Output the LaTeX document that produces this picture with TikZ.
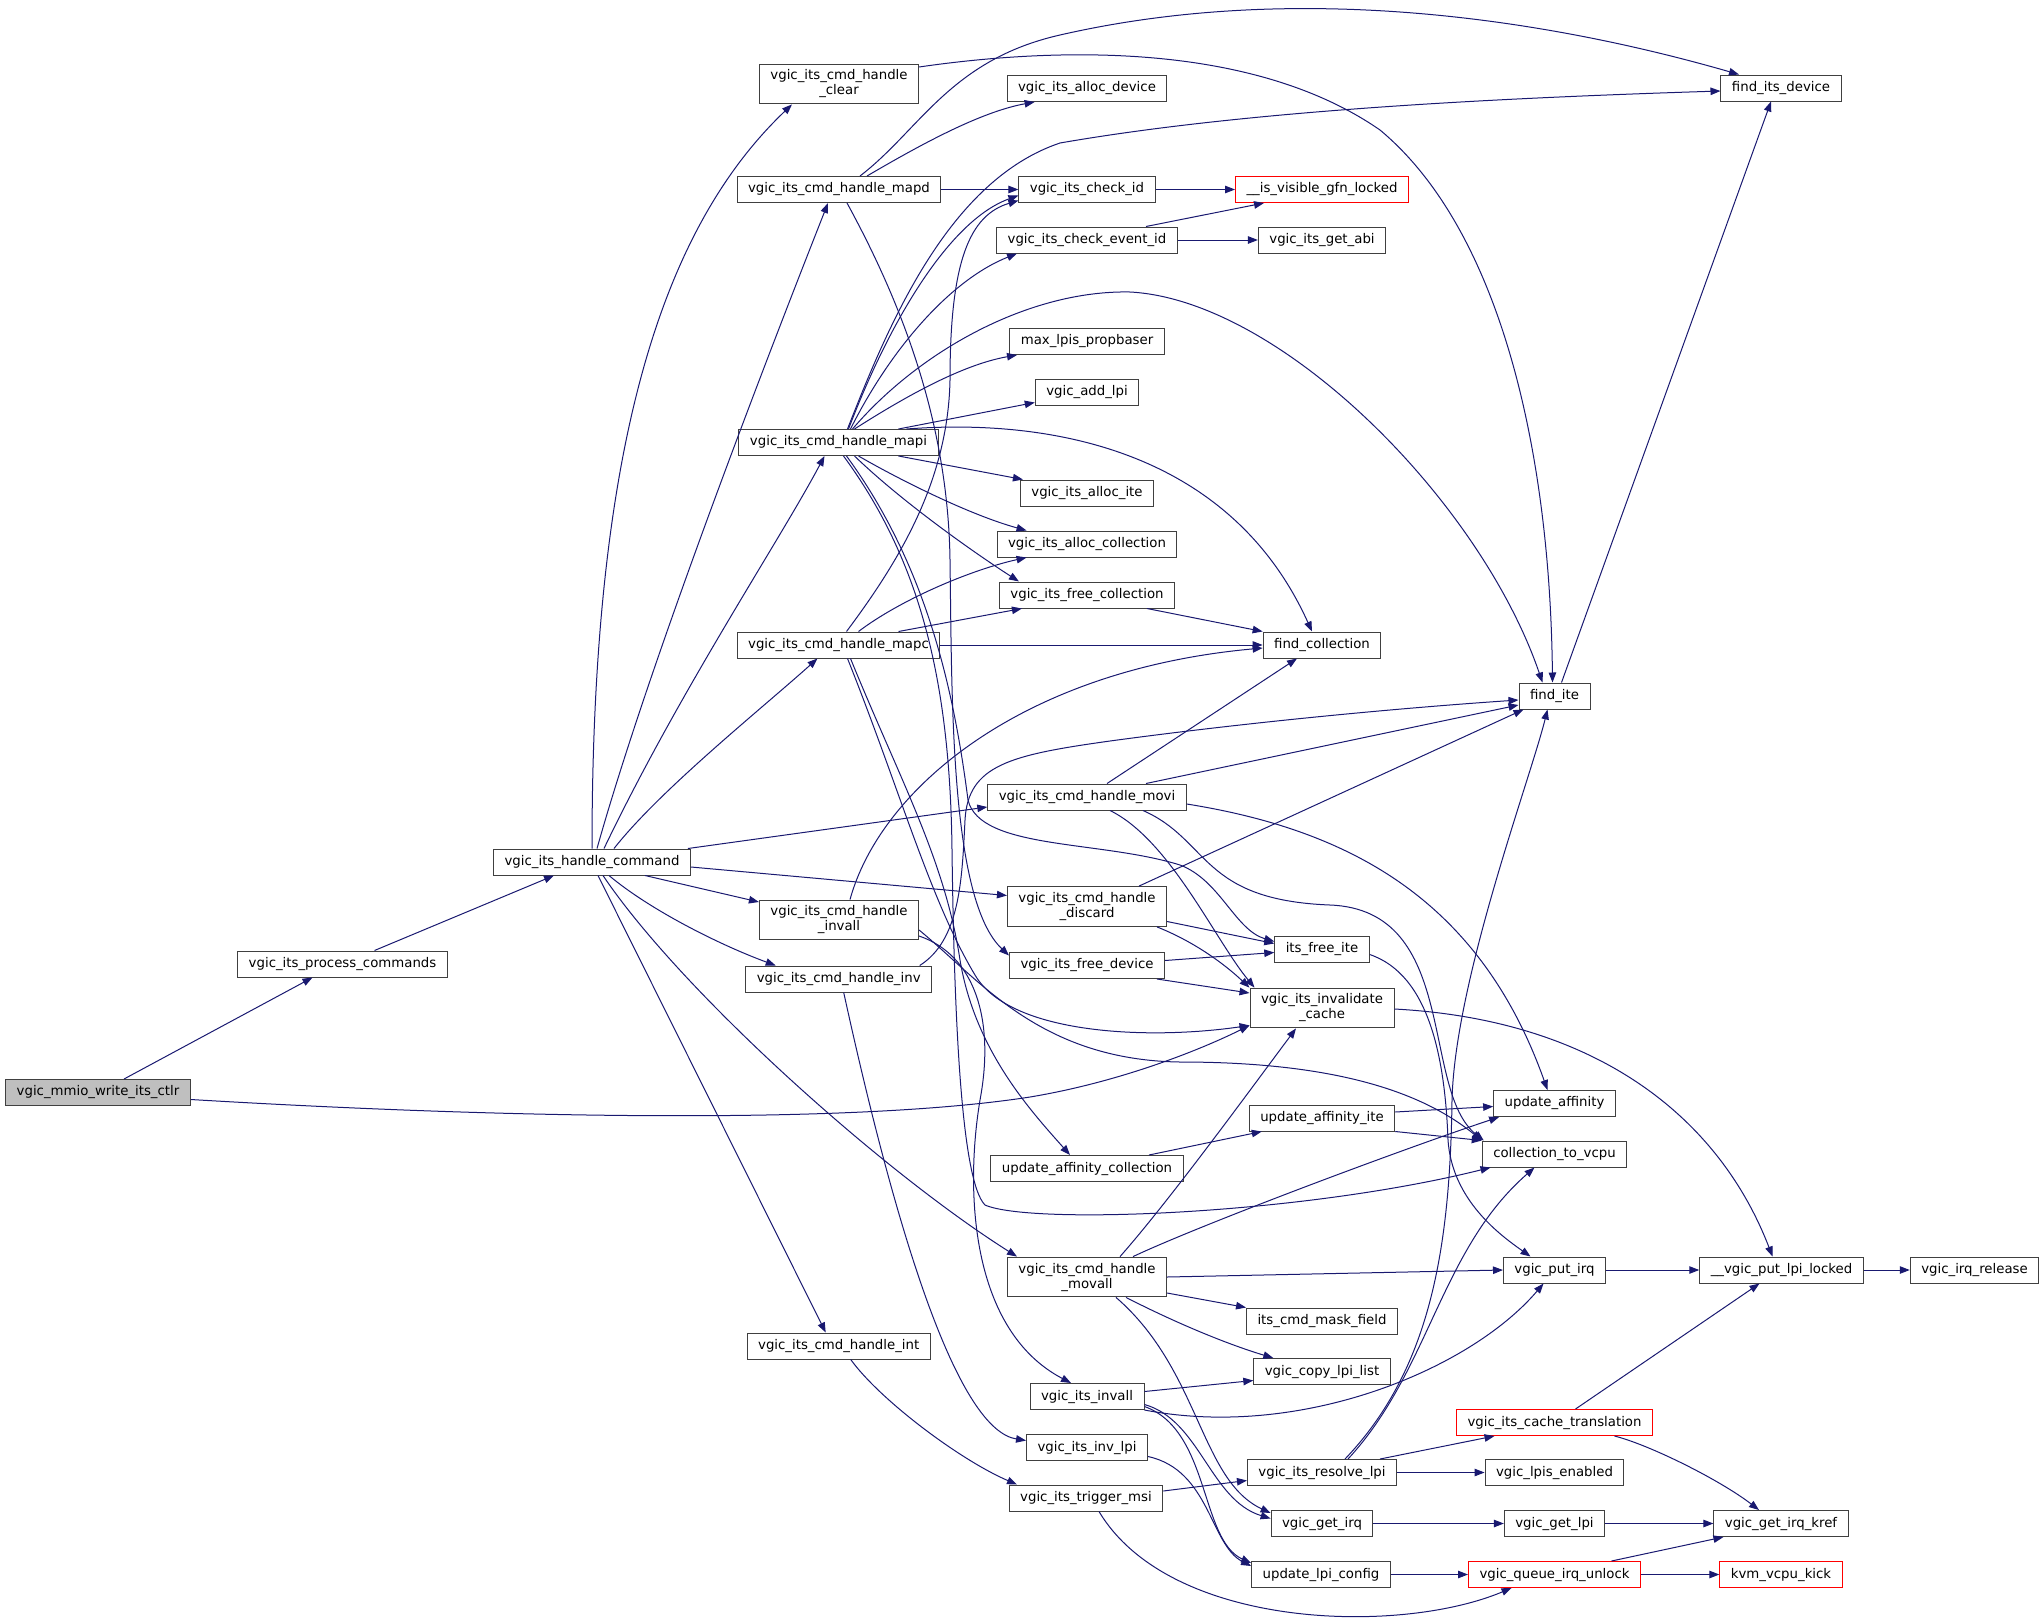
\documentclass[tikz,border=0pt]{standalone}
\usepackage{fontspec}
\setmainfont{DejaVu Sans}
\usetikzlibrary{arrows.meta}
\definecolor{callblue}{HTML}{191970}
\definecolor{rootgray}{HTML}{BFBFBF}
\begin{document}
\begin{tikzpicture}[x=1pt,y=-1pt,
		func/.style={draw=black!75,line width=1pt,fill=white,font=\fontsize{13.3}{15}\selectfont,inner xsep=11pt,inner ysep=5.8pt,minimum height=26pt,align=center},
		funcred/.style={func,draw=red},
		funcroot/.style={func,fill=rootgray},
		call/.style={draw=callblue,line width=1pt,-{Triangle[length=10pt,width=7.5pt]}}]
		
		\useasboundingbox (0,0) rectangle (2044,1619);
		
		% Funktionen
		\node[funcroot] (root) at (98,1092.5) {vgic\_mmio\_write\_its\_ctlr};
		\node[func] (proc) at (342.5,964) {vgic\_its\_process\_commands};
		\node[func] (cmd) at (592,862) {vgic\_its\_handle\_command};
		
		\node[func] (clear) at (839,84) {vgic\_its\_cmd\_handle\\\_clear};
		\node[func] (mapd) at (839,189.5) {vgic\_its\_cmd\_handle\_mapd};
		\node[func] (mapi) at (838.5,442.5) {vgic\_its\_cmd\_handle\_mapi};
		\node[func] (mapc) at (838.5,645) {vgic\_its\_cmd\_handle\_mapc};
		\node[func] (invallh) at (839,920) {vgic\_its\_cmd\_handle\\\_invall};
		\node[func] (inv) at (838.7,979) {vgic\_its\_cmd\_handle\_inv};
		\node[func] (intc) at (838.7,1346) {vgic\_its\_cmd\_handle\_int};
		
		\node[func] (allocdev) at (1087,88.5) {vgic\_its\_alloc\_device};
		\node[func] (checkid) at (1087,189.5) {vgic\_its\_check\_id};
		\node[func] (checkev) at (1087,240) {vgic\_its\_check\_event\_id};
		\node[func] (maxlpi) at (1087,341.5) {max\_lpis\_propbaser};
		\node[func] (addlpi) at (1087,392.5) {vgic\_add\_lpi};
		\node[func] (allocite) at (1087,493) {vgic\_its\_alloc\_ite};
		\node[func] (alloccol) at (1087,544) {vgic\_its\_alloc\_collection};
		\node[func] (freecol) at (1087,595) {vgic\_its\_free\_collection};
		\node[func] (movi) at (1087,797) {vgic\_its\_cmd\_handle\_movi};
		\node[func] (discard) at (1087,906.5) {vgic\_its\_cmd\_handle\\\_discard};
		\node[func] (freedev) at (1087,965.5) {vgic\_its\_free\_device};
		\node[func] (uac) at (1087,1168.5) {update\_affinity\_collection};
		\node[func] (movall) at (1087,1277) {vgic\_its\_cmd\_handle\\\_movall};
		\node[func] (invall) at (1087,1396.5) {vgic\_its\_invall};
		\node[func] (invlpi) at (1087,1447.5) {vgic\_its\_inv\_lpi};
		\node[func] (trig) at (1086,1498) {vgic\_its\_trigger\_msi};
		
		\node[funcred] (visible) at (1322,189.5) {\_\_is\_visible\_gfn\_locked};
		\node[func] (getabi) at (1322,240) {vgic\_its\_get\_abi};
		\node[func] (findcol) at (1322,645) {find\_collection};
		\node[func] (freeite) at (1322,949.5) {its\_free\_ite};
		\node[func] (invcache) at (1322,1008) {vgic\_its\_invalidate\\\_cache};
		\node[func] (uai) at (1322,1118) {update\_affinity\_ite};
		\node[func] (maskf) at (1322,1321) {its\_cmd\_mask\_field};
		\node[func] (copy) at (1322,1371.5) {vgic\_copy\_lpi\_list};
		\node[func] (resolve) at (1322,1472.5) {vgic\_its\_resolve\_lpi};
		\node[func] (getirq) at (1322,1523.5) {vgic\_get\_irq};
		\node[func] (ulc) at (1321,1574.5) {update\_lpi\_config};
		
		\node[func] (findite) at (1554.5,696) {find\_ite};
		\node[func] (ua) at (1554.5,1103.5) {update\_affinity};
		\node[func] (c2v) at (1554.5,1154) {collection\_to\_vcpu};
		\node[func] (putirq) at (1554.5,1270) {vgic\_put\_irq};
		\node[funcred] (cache) at (1554.5,1422.5) {vgic\_its\_cache\_translation};
		\node[func] (lpisen) at (1554.5,1472.5) {vgic\_lpis\_enabled};
		\node[func] (getlpi) at (1554.5,1523.5) {vgic\_get\_lpi};
		\node[funcred] (queue) at (1554.5,1574.5) {vgic\_queue\_irq\_unlock};
		
		\node[func] (finddev) at (1781,88) {find\_its\_device};
		\node[func] (putlpi) at (1781.5,1270) {\_\_vgic\_put\_lpi\_locked};
		\node[func] (kref) at (1781,1523.5) {vgic\_get\_irq\_kref};
		\node[funcred] (kick) at (1781,1574.5) {kvm\_vcpu\_kick};
		\node[func] (release) at (1974.5,1270) {vgic\_irq\_release};
		
		% Wurzel
		\draw[call] ([xshift=26pt]root.north) -- ([xshift=-30pt]proc.south);
		\draw[call] ([yshift=-7pt]root.east) .. controls (500,1118) and (850,1125) .. (1030,1097) .. controls (1120,1082) and (1200,1050) .. ([yshift=3pt]invcache.south west);
		\draw[call] ([xshift=32pt]proc.north) -- ([xshift=-38pt]cmd.south);
		
		% vgic_its_handle_command
		\draw[call] (cmd.north) .. controls (592,450) and (660,230) .. ([xshift=-47pt]clear.south);
		\draw[call] ([xshift=5pt]cmd.north) .. controls (650,660) and (770,350) .. ([xshift=-11pt]mapd.south);
		\draw[call] ([xshift=12pt]cmd.north) .. controls (680,690) and (780,540) .. ([xshift=-14pt]mapi.south);
		\draw[call] ([xshift=22pt]cmd.north) .. controls (660,790) and (760,710) .. ([xshift=-21pt]mapc.south);
		\draw[call] ([xshift=-3pt]cmd.north east) -- ([yshift=-10pt]movi.west);
		\draw[call] ([yshift=-5pt]cmd.east) -- ([yshift=11pt]discard.west);
		\draw[call] ([xshift=53pt]cmd.south) -- ([yshift=18pt]invallh.west);
		\draw[call] ([xshift=17pt]cmd.south) .. controls (650,910) and (720,945) .. ([xshift=-63pt]inv.north);
		\draw[call] ([xshift=11pt]cmd.south) .. controls (680,990) and (880,1170) .. ([xshift=-70pt]movall.north);
		\draw[call] ([xshift=6pt]cmd.south) -- ([xshift=-13pt]intc.north);
		
		% clear und mapd
		\draw[call] ([yshift=17pt]clear.east) .. controls (1050,48) and (1250,40) .. (1380,130) .. controls (1500,230) and (1550,450) .. ([xshift=-2pt]findite.north);
		\draw[call] ([xshift=21pt]mapd.north) .. controls (920,130) and (950,60) .. (1060,35) .. controls (1300,-20) and (1550,20) .. ([xshift=-42pt]finddev.north);
		\draw[call] ([xshift=28pt]mapd.north) .. controls (920,145) and (980,112) .. ([xshift=28pt]allocdev.south west);
		\draw[call] (mapd.east) -- (checkid.west);
		\draw[call] ([xshift=8pt]mapd.south) .. controls (900,300) and (948,420) .. (950,560) .. controls (952,700) and (950,900) .. ([yshift=10pt]freedev.west);
		
		% mapi
		\draw[call] ([xshift=9pt]mapi.north) .. controls (890,320) and (950,180) .. (1060,143) .. controls (1250,110) and (1500,98) .. ([yshift=-3pt]finddev.west);
		\draw[call] ([xshift=10pt]mapi.north) .. controls (890,320) and (950,220) .. ([yshift=-6pt]checkid.west);
		\draw[call] ([xshift=12pt]mapi.north) .. controls (890,350) and (950,280) .. ([xshift=-70pt]checkev.south);
		\draw[call] ([xshift=14pt]mapi.north) .. controls (920,350) and (1030,290) .. (1130,292) .. controls (1280,300) and (1480,500) .. ([xshift=-12pt]findite.north);
		\draw[call] ([xshift=16pt]mapi.north) .. controls (900,400) and (960,365) .. ([xshift=-70pt]maxlpi.south);
		\draw[call] ([xshift=60pt]mapi.north) -- ([yshift=-10pt]addlpi.west);
		\draw[call] ([xshift=68pt]mapi.north) .. controls (1050,418) and (1230,450) .. ([xshift=-10pt]findcol.north);
		\draw[call] ([xshift=60pt]mapi.south) -- ([xshift=3pt]allocite.north west);
		\draw[call] ([xshift=20pt]mapi.south) .. controls (900,480) and (970,515) .. ([xshift=30pt]alloccol.north west);
		\draw[call] ([xshift=16pt]mapi.south) .. controls (900,500) and (970,550) .. ([xshift=20pt]freecol.north west);
		\draw[call] ([xshift=8pt]mapi.south) .. controls (930,570) and (955,700) .. (968,800) .. controls (980,850) and (1100,840) .. (1180,865) .. controls (1220,880) and (1235,930) .. ([yshift=8pt]freeite.west);
		\draw[call] ([xshift=5pt]mapi.south) .. controls (920,560) and (950,680) .. (952,850) .. controls (954,1000) and (960,1180) .. (985,1205) .. controls (1030,1225) and (1300,1215) .. ([xshift=-64pt]c2v.south);
		
		% mapc
		\draw[call] ([xshift=8pt]mapc.north) .. controls (900,560) and (948,480) .. (950,380) .. controls (950,260) and (970,215) .. ([yshift=-11pt]checkid.west);
		\draw[call] ([xshift=20pt]mapc.north) .. controls (900,600) and (970,570) .. ([xshift=30pt]alloccol.south west);
		\draw[call] ([xshift=60pt]mapc.north) -- ([xshift=23pt]freecol.south west);
		\draw[call] (mapc.east) -- (findcol.west);
		\draw[call] ([xshift=9pt]mapc.south) .. controls (900,790) and (930,900) .. (975,975) .. controls (1010,1035) and (1150,1040) .. ([yshift=3pt]invcache.south west);
		\draw[call] ([xshift=12pt]mapc.south) .. controls (900,780) and (945,860) .. (960,960) .. controls (975,1050) and (1030,1110) .. ([xshift=-17pt]uac.north);
		\draw[call] ([xshift=60pt]freecol.south) -- (findcol.north west);
		
		% invall, inv und int
		\draw[call] ([xshift=11pt]invallh.north) .. controls (880,790) and (1020,670) .. ([yshift=-3pt]findcol.west);
		\draw[call] ([yshift=-16pt]invallh.east) .. controls (975,955) and (995,1020) .. (980,1100) .. controls (965,1190) and (970,1330) .. ([xshift=-16pt]invall.north);
		\draw[call] ([yshift=-10pt]invallh.east) .. controls (980,980) and (1040,1060) .. (1180,1062) .. controls (1330,1062) and (1420,1090) .. (c2v.north west);
		\draw[call] ([xshift=5pt]inv.south) .. controls (900,1250) and (960,1430) .. ([yshift=7pt]invlpi.west);
		\draw[call] ([xshift=81pt]inv.north) .. controls (960,940) and (962,880) .. (965,820) .. controls (968,765) and (1010,755) .. (1110,741) .. controls (1250,722) and (1400,708) .. ([yshift=-4pt]findite.west);
		\draw[call] ([xshift=12pt]intc.south) .. controls (880,1400) and (960,1460) .. ([xshift=-69pt]trig.north);
		
		% movi
		\draw[call] ([xshift=20pt]movi.north) -- ([xshift=-25pt]findcol.south);
		\draw[call] ([xshift=59pt]movi.north) -- ([yshift=-9pt]findite.west);
		\draw[call] ([yshift=-7pt]movi.east) .. controls (1350,830) and (1480,900) .. ([xshift=-7pt]ua.north);
		\draw[call] ([xshift=56pt]movi.south) .. controls (1210,840) and (1200,900) .. (1330,905) .. controls (1460,910) and (1420,1090) .. ([xshift=2pt]c2v.north west);
		\draw[call] ([xshift=23pt]movi.south) .. controls (1170,840) and (1215,940) .. ([xshift=5pt]invcache.north west);
		
		% discard und free_device
		\draw[call] ([xshift=52pt]discard.north) -- ([xshift=5pt]findite.south west);
		\draw[call] ([yshift=-15pt]discard.east) -- ([yshift=6pt]freeite.west);
		\draw[call] ([xshift=70pt]discard.south) .. controls (1190,940) and (1220,960) .. (invcache.north west);
		\draw[call] ([yshift=5pt]freedev.east) -- ([yshift=-3pt]freeite.west);
		\draw[call] ([xshift=70pt]freedev.south) -- ([yshift=15pt]invcache.west);
		
		% movall
		\draw[call] ([xshift=33pt]movall.north) .. controls (1170,1200) and (1250,1090) .. ([xshift=-26pt]invcache.south);
		\draw[call] ([xshift=46pt]movall.north) .. controls (1200,1225) and (1400,1150) .. ([xshift=6pt]ua.south west);
		\draw[call] (movall.east) -- (putirq.west);
		\draw[call] ([yshift=-16pt]movall.east) -- (maskf.north west);
		\draw[call] ([xshift=39pt]movall.south) .. controls (1180,1325) and (1230,1345) .. ([xshift=20pt]copy.north west);
		\draw[call] ([xshift=29pt]movall.south) .. controls (1200,1370) and (1200,1480) .. ([yshift=-3pt]getirq.north west);
		
		% vgic_its_invall, inv_lpi, trigger_msi
		\draw[call] ([yshift=5pt]invall.east) -- ([yshift=-9pt]copy.west);
		\draw[call] (invall.south east) .. controls (1300,1440) and (1470,1370) .. ([xshift=-11pt]putirq.south);
		\draw[call] ([yshift=-8pt]invall.east) .. controls (1200,1420) and (1210,1500) .. ([yshift=5pt]getirq.west);
		\draw[call] ([yshift=-10pt]invall.east) .. controls (1210,1430) and (1200,1540) .. ([yshift=-2pt]ulc.north west);
		\draw[call] ([yshift=-9pt]invlpi.east) .. controls (1210,1470) and (1210,1545) .. ([yshift=-5pt]ulc.north west);
		\draw[call] ([yshift=7pt]trig.east) -- ([yshift=-8pt]resolve.west);
		\draw[call] ([xshift=13pt]trig.south) .. controls (1170,1630) and (1400,1635) .. ([xshift=-43pt]queue.south);
		
		% resolve_lpi
		\draw[call] ([xshift=23pt]resolve.north) .. controls (1430,1370) and (1450,1250) .. (1452,1100) .. controls (1455,980) and (1530,780) .. ([xshift=-7pt]findite.south);
		\draw[call] ([xshift=26pt]resolve.north) .. controls (1430,1370) and (1440,1250) .. ([xshift=-20pt]c2v.south);
		\draw[call] ([xshift=58pt]resolve.north) -- ([xshift=-60pt]cache.south);
		\draw[call] (resolve.east) -- (lpisen.west);
		
		% rechte Seite
		\draw[call] (getirq.east) -- (getlpi.west);
		\draw[call] (getlpi.east) -- (kref.west);
		\draw[call] (ulc.east) -- (queue.west);
		\draw[call] (queue.east) -- (kick.west);
		\draw[call] ([xshift=57pt]queue.north) -- ([xshift=10pt]kref.south west);
		\draw[call] (putirq.east) -- (putlpi.west);
		\draw[call] (putlpi.east) -- (release.west);
		\draw[call] ([xshift=21pt]cache.north) -- ([xshift=-22pt]putlpi.south);
		\draw[call] ([xshift=60pt]cache.south) .. controls (1650,1445) and (1720,1480) .. ([xshift=-22pt]kref.north);
		\draw[call] ([yshift=-1pt]invcache.east) .. controls (1600,1020) and (1720,1120) .. ([xshift=-9pt]putlpi.north);
		\draw[call] ([yshift=6pt]uai.east) -- ([yshift=-3pt]ua.west);
		\draw[call] (uai.south east) -- (c2v.north west);
		\draw[call] ([xshift=62pt]uac.north) -- ([xshift=13pt]uai.south west);
		\draw[call] ([yshift=-5pt]freeite.east) .. controls (1430,975) and (1445,1060) .. (1448,1140) .. controls (1452,1200) and (1500,1235) .. ([xshift=-24pt]putirq.north);
		\draw[call] ([xshift=7pt]findite.north) -- ([xshift=-10pt]finddev.south);
		\draw[call] (checkid.east) -- (visible.west);
		\draw[call] ([xshift=59pt]checkev.north) -- ([xshift=29pt]visible.south west);
		\draw[call] (checkev.east) -- (getabi.west);
		
	\end{tikzpicture}
\end{document}
